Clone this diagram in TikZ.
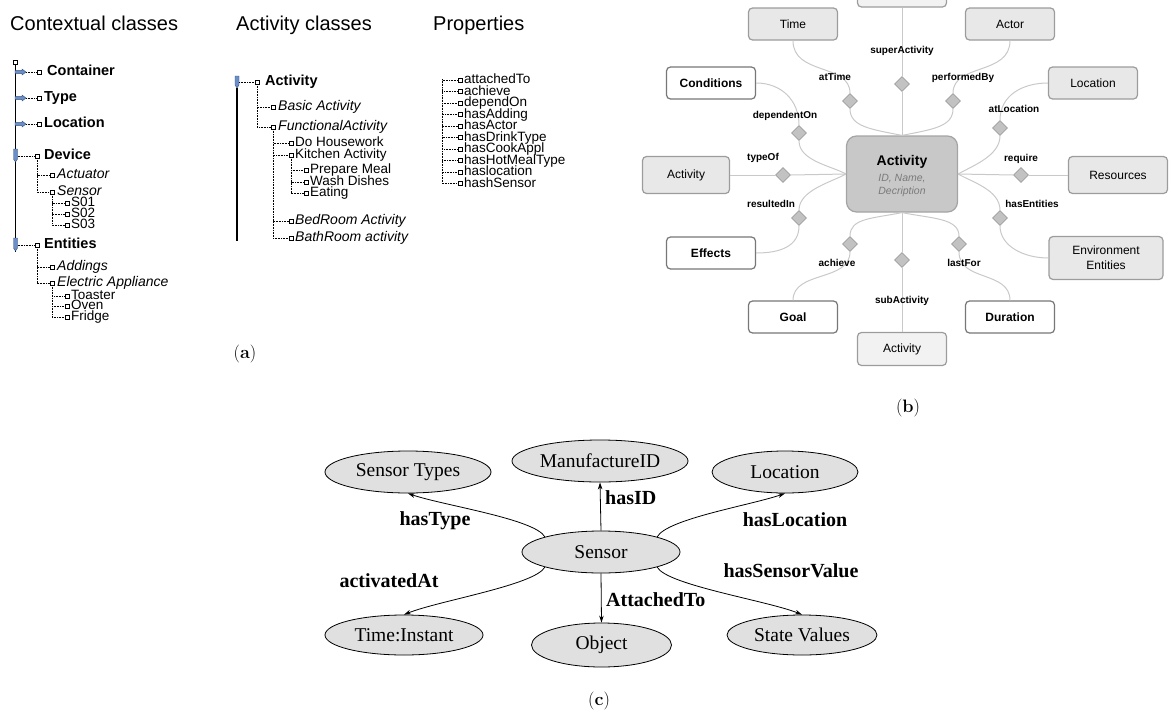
\documentclass[tikz,border=0pt]{standalone}
\usepackage{fontspec}
\newfontfamily\arialf{Liberation Sans}
\newfontfamily\timesf{Liberation Serif}
\usetikzlibrary{shapes.geometric,arrows.meta}
\definecolor{boxgray}{HTML}{E8E8E8}
\definecolor{boxlight}{HTML}{F2F2F2}
\definecolor{bbord}{HTML}{9C9C9C}
\definecolor{wbord}{HTML}{777777}
\definecolor{cfill}{HTML}{C8C8C8}
\definecolor{cbord}{HTML}{A4A4A4}
\definecolor{dfill}{HTML}{C2C2C2}
\definecolor{dbord}{HTML}{9E9E9E}
\definecolor{lgray}{HTML}{C9C9C9}
\definecolor{egray}{HTML}{E0E0E0}
\definecolor{tgray}{HTML}{7A7A7A}
\definecolor{ablue}{HTML}{6A8FC8}
\definecolor{adark}{HTML}{2C4A78}

\begin{document}
\begin{tikzpicture}[x=1pt,y=-1pt]
\tikzstyle{every node}+=[inner sep=0pt]
\tikzstyle{head}=[anchor=mid west,yshift=-2pt,font=\arialf\fontsize{20}{22}\selectfont]
\tikzstyle{leaf}=[anchor=mid west,yshift=-1.5pt,font=\arialf\fontsize{14}{14}\selectfont]
\tikzstyle{sleaf}=[leaf,font=\arialf\fontsize{13.5}{13}\selectfont]
\tikzstyle{bleaf}=[leaf,font=\arialf\bfseries\fontsize{14.5}{14}\selectfont]
\tikzstyle{ileaf}=[leaf,font=\arialf\itshape\fontsize{14}{14}\selectfont]
\tikzstyle{sq}=[draw=black,fill=white,line width=0.5pt,minimum size=4pt]
\tikzstyle{tick}=[black,line width=0.6pt,dash pattern=on 0.8pt off 0.8pt]
\tikzstyle{barrow}=[fill=ablue,draw=adark,line width=0.4pt]
\tikzstyle{gbox}=[draw=bbord,fill=boxgray,rounded corners=4pt,line width=1.2pt,minimum width=89pt,minimum height=32pt,font=\arialf\fontsize{12}{14}\selectfont]
\tikzstyle{wbox}=[gbox,fill=white,draw=wbord,font=\arialf\bfseries\fontsize{12}{14}\selectfont]
\tikzstyle{dia}=[diamond,draw=dbord,fill=dfill,line width=0.8pt,minimum size=15pt]
\tikzstyle{rel}=[anchor=mid,font=\arialf\bfseries\fontsize{10}{12}\selectfont]
\tikzstyle{lnk}=[draw=lgray,line width=1pt]
\tikzstyle{ell}=[ellipse,draw=black,fill=egray,line width=0.8pt,font=\timesf\fontsize{19.5}{20}\selectfont]
\tikzstyle{lab}=[anchor=mid,font=\timesf\bfseries\fontsize{20}{22}\selectfont]
\tikzstyle{arr}=[-{Stealth[length=7pt,width=4.5pt]},line width=0.8pt]
\useasboundingbox (0,0) rectangle (1171,715);

% (a) contextual classes
\node[head] (hctx) at (10,26) {Contextual classes};
\node[sq] (qroot) at (15.5,62) {};
\draw[black,line width=1.4pt] (qroot.south) -- (15.5,252);
\filldraw[barrow] (15,70.6) -- (22,70.6) -- (22,69) -- (26,72) -- (22,75) -- (22,73.4) -- (15,73.4) -- cycle;
\filldraw[barrow] (15,96.6) -- (22,96.6) -- (22,95) -- (26,98) -- (22,101) -- (22,99.4) -- (15,99.4) -- cycle;
\filldraw[barrow] (15,122.6) -- (22,122.6) -- (22,121) -- (26,124) -- (22,127) -- (22,125.4) -- (15,125.4) -- cycle;
\filldraw[barrow] (13.5,149) -- (17.5,149) -- (17.5,159) -- (15.5,162) -- (13.5,159) -- cycle;
\filldraw[barrow] (13.5,238) -- (17.5,238) -- (17.5,248) -- (15.5,251) -- (13.5,248) -- cycle;
\coordinate (acon) at (26,72);
\coordinate (atyp) at (26,98);
\coordinate (aloc) at (26,124);
\coordinate (adev) at (17.5,156);
\coordinate (aent) at (17.5,245);
\node[sq] (qcon) at (39,72) {};
\node[sq] (qtyp) at (39,98) {};
\node[sq] (qloc) at (39,124) {};
\node[sq] (qdev) at (37,156) {};
\node[sq] (qact) at (52,175) {};
\node[sq] (qsen) at (52,192) {};
\node[sq] (qs1) at (67,203) {};
\node[sq] (qs2) at (67,214) {};
\node[sq] (qs3) at (67,225) {};
\node[sq] (qent) at (37,245) {};
\node[sq] (qadd) at (52,267) {};
\node[sq] (qele) at (52,283) {};
\node[sq] (qtoa) at (67,296) {};
\node[sq] (qove) at (67,306) {};
\node[sq] (qfri) at (67,317) {};
\node[bleaf] (ncon) at (47,72) {Container};
\node[bleaf] (ntyp) at (44,98) {Type};
\node[bleaf] (nloc) at (44,124) {Location};
\node[bleaf] (ndev) at (44,156) {Device};
\node[ileaf] (nact) at (57,175) {Actuator};
\node[ileaf] (nsen) at (57,192) {Sensor};
\node[sleaf] (ns1) at (71,203) {S01};
\node[sleaf] (ns2) at (71,214) {S02};
\node[sleaf] (ns3) at (71,225) {S03};
\node[bleaf] (nent) at (44,245) {Entities};
\node[ileaf] (nadd) at (57,267) {Addings};
\node[ileaf] (nele) at (57,283) {Electric Appliance};
\node[sleaf] (ntoa) at (71,296) {Toaster};
\node[sleaf] (nove) at (71,306) {Oven};
\node[sleaf] (nfri) at (71,317) {Fridge};
\draw[tick] (acon) -- (qcon);
\draw[tick] (atyp) -- (qtyp);
\draw[tick] (aloc) -- (qloc);
\draw[tick] (adev) -- (qdev);
\draw[tick] (aent) -- (qent);
\draw[tick] (qdev) |- (qact);
\draw[tick] (qdev) |- (qsen);
\draw[tick] (qsen) |- (qs1);
\draw[tick] (qsen) |- (qs2);
\draw[tick] (qsen) |- (qs3);
\draw[tick] (qent) |- (qadd);
\draw[tick] (qent) |- (qele);
\draw[tick] (qele) |- (qtoa);
\draw[tick] (qele) |- (qove);
\draw[tick] (qele) |- (qfri);

% (a) activity classes
\node[head] (hact) at (236,26) {Activity classes};
\filldraw[barrow] (235,76) -- (239,76) -- (239,85) -- (237,88) -- (235,85) -- cycle;
\draw[black,line width=1.4pt] (237,88) -- (237,241);
\coordinate (aacv) at (239,82);
\node[sq] (qacv) at (257,82) {};
\node[sq] (qbas) at (273,107) {};
\node[sq] (qfun) at (273,127) {};
\node[sq] (qdoh) at (291,143) {};
\node[sq] (qkit) at (291,155) {};
\node[sq] (qpre) at (306,170) {};
\node[sq] (qwas) at (306,182) {};
\node[sq] (qeat) at (306,193) {};
\node[sq] (qbed) at (291,221) {};
\node[sq] (qbat) at (291,238) {};
\node[bleaf] (nacv) at (265,82) {Activity};
\node[ileaf] (nbas) at (278,107) {Basic Activity};
\node[ileaf] (nfun) at (278,127) {FunctionalActivity};
\node[sleaf] (ndoh) at (295,143) {Do Housework};
\node[sleaf] (nkit) at (295,155) {Kitchen Activity};
\node[sleaf] (npre) at (310,170) {Prepare Meal};
\node[sleaf] (nwas) at (310,182) {Wash Dishes};
\node[sleaf] (neat) at (310,193) {Eating};
\node[ileaf] (nbed) at (295,221) {BedRoom Activity};
\node[ileaf] (nbat) at (295,238) {BathRoom activity};
\draw[tick] (aacv) -- (qacv);
\draw[tick] (qacv) |- (qbas);
\draw[tick] (qacv) |- (qfun);
\draw[tick] (qfun) |- (qdoh);
\draw[tick] (qfun) |- (qkit);
\draw[tick] (qfun) |- (qbed);
\draw[tick] (qfun) |- (qbat);
\draw[tick] (qkit) |- (qpre);
\draw[tick] (qkit) |- (qwas);
\draw[tick] (qkit) |- (qeat);

% (a) properties
\node[head] (hprop) at (433,26) {Properties};
\coordinate (proot) at (442,79);
\node[sq] (qp0) at (460,80) {};
\node[sq] (qp1) at (460,91.5) {};
\node[sq] (qp2) at (460,103) {};
\node[sq] (qp3) at (460,114.5) {};
\node[sq] (qp4) at (460,126) {};
\node[sq] (qp5) at (460,137.5) {};
\node[sq] (qp6) at (460,149) {};
\node[sq] (qp7) at (460,160.5) {};
\node[sq] (qp8) at (460,172) {};
\node[sq] (qp9) at (460,183.5) {};
\node[sleaf] (np0) at (464,80) {attachedTo};
\node[sleaf] (np1) at (464,91.5) {achieve};
\node[sleaf] (np2) at (464,103) {dependOn};
\node[sleaf] (np3) at (464,114.5) {hasAdding};
\node[sleaf] (np4) at (464,126) {hasActor};
\node[sleaf] (np5) at (464,137.5) {hasDrinkType};
\node[sleaf] (np6) at (464,149) {hasCookAppl};
\node[sleaf] (np7) at (464,160.5) {hasHotMealType};
\node[sleaf] (np8) at (464,172) {haslocation};
\node[sleaf] (np9) at (464,183.5) {hashSensor};
\draw[tick] (proot) |- (qp0);
\draw[tick] (proot) |- (qp1);
\draw[tick] (proot) |- (qp2);
\draw[tick] (proot) |- (qp3);
\draw[tick] (proot) |- (qp4);
\draw[tick] (proot) |- (qp5);
\draw[tick] (proot) |- (qp6);
\draw[tick] (proot) |- (qp7);
\draw[tick] (proot) |- (qp8);
\draw[tick] (proot) |- (qp9);
\node (capa) at (245,354) {\fontsize{18}{20}\selectfont(\textbf{a})};

% (b) activity model
\node[gbox,minimum height=34pt,fill=boxlight] (sup) at (902,-10) {};
\node[gbox] (time) at (793,24) {Time};
\node[gbox] (actor) at (1010,24) {Actor};
\node[wbox] (cond) at (711,83) {Conditions};
\node[gbox] (loc) at (1093,83) {Location};
\node[gbox,minimum width=87pt,minimum height=37pt] (actl) at (686,175) {Activity};
\node[gbox,minimum width=99pt,minimum height=37pt] (res) at (1118,175) {Resources};
\node[wbox] (eff) at (711,253) {Effects};
\node[gbox,minimum width=114pt,minimum height=43pt,align=center] (env) at (1106,258) {Environment\\[1pt]Entities};
\node[wbox] (goal) at (793,317) {Goal};
\node[wbox] (dur) at (1010,317) {Duration};
\node[gbox,minimum height=33pt,fill=boxlight] (sub) at (902,349) {Activity};
\node[draw=cbord,fill=cfill,rounded corners=10pt,line width=1.2pt,minimum width=111pt,minimum height=76pt] (act) at (902,174) {};
\node[font=\arialf\bfseries\fontsize{14}{16}\selectfont] (actT) at (902,162) {Activity};
\node[font=\arialf\itshape\fontsize{10.5}{12}\selectfont,text=tgray] (actA) at (902,179) {ID, Name,};
\node[font=\arialf\itshape\fontsize{10.5}{12}\selectfont,text=tgray] (actB) at (902,192) {Decription};
\node[dia] (dSup) at (902,84) {};
\node[dia] (dAt) at (850,101) {};
\node[dia] (dPerf) at (953,101) {};
\node[dia] (dDep) at (799,133) {};
\node[dia] (dLoc) at (1000,128) {};
\node[dia] (dType) at (783,175) {};
\node[dia] (dReq) at (1021,175) {};
\node[dia] (dRes) at (799,218) {};
\node[dia] (dEnt) at (1000,218) {};
\node[dia] (dAch) at (850,244) {};
\node[dia] (dSub) at (902,260) {};
\node[dia] (dLast) at (959,244) {};
\draw[lnk] (sup.south) -- (dSup.north);
\draw[lnk] (dSup.south) -- (act.north);
\draw[lnk] (time.south) .. controls +(0,35) and +(0,-30) .. (dAt.north);
\draw[lnk] (dAt.south) .. controls +(0,18) and +(-30,-6) .. (act.north);
\draw[lnk] (actor.south) .. controls +(0,35) and +(0,-30) .. (dPerf.north);
\draw[lnk] (dPerf.south) .. controls +(0,18) and +(30,-6) .. (act.north);
\draw[lnk] (cond.east) .. controls +(25,0) and +(0,-25) .. (dDep.north);
\draw[lnk] (dDep.south) .. controls +(0,20) and +(-14,-8) .. (act.west);
\draw[lnk] (loc.west) .. controls +(-25,0) and +(0,-25) .. (dLoc.north);
\draw[lnk] (dLoc.south) .. controls +(0,20) and +(14,-8) .. (act.east);
\draw[lnk] (actl.east) -- (dType.west);
\draw[lnk] (dType.east) -- (act.west);
\draw[lnk] (act.east) -- (dReq.west);
\draw[lnk] (dReq.east) -- (res.west);
\draw[lnk] (act.west) .. controls +(-14,8) and +(0,-20) .. (dRes.north);
\draw[lnk] (dRes.south) .. controls +(0,20) and +(25,0) .. (eff.east);
\draw[lnk] (act.east) .. controls +(14,8) and +(0,-20) .. (dEnt.north);
\draw[lnk] (dEnt.south) .. controls +(0,20) and +(-25,0) .. (env.west);
\draw[lnk] (act.south) .. controls +(-30,6) and +(0,-18) .. (dAch.north);
\draw[lnk] (dAch.south) .. controls +(0,30) and +(0,-30) .. (goal.north);
\draw[lnk] (act.south) .. controls +(30,6) and +(0,-18) .. (dLast.north);
\draw[lnk] (dLast.south) .. controls +(0,30) and +(0,-30) .. (dur.north);
\draw[lnk] (act.south) -- (dSub.north);
\draw[lnk] (dSub.south) -- (sub.north);
\node[rel] (lSup) at (902,51) {superActivity};
\node[rel] (lAt) at (835,78) {atTime};
\node[rel] (lPerf) at (963,78) {performedBy};
\node[rel] (lDep) at (785,116) {dependentOn};
\node[rel] (lLoc) at (1014,110) {atLocation};
\node[rel] (lType) at (763,158) {typeOf};
\node[rel] (lReq) at (1021,159) {require};
\node[rel] (lRes) at (771,205) {resultedIn};
\node[rel] (lEnt) at (1032,205) {hasEntities};
\node[rel] (lAch) at (837,264) {achieve};
\node[rel] (lLast) at (964,264) {lastFor};
\node[rel] (lSub) at (902,301) {subActivity};
\node (capb) at (908,408) {\fontsize{18}{20}\selectfont(\textbf{b})};

% (c) sensor model
\node[ell,minimum width=166pt,minimum height=42pt] (st) at (408,472) {Sensor Types};
\node[ell,minimum width=176pt,minimum height=42pt] (mid) at (600,461) {ManufactureID};
\node[ell,minimum width=146pt,minimum height=42pt] (loc2) at (785,472) {Location};
\node[ell,minimum width=158pt,minimum height=42pt] (sen) at (601,552) {Sensor};
\node[ell,minimum width=158pt,minimum height=40pt] (ti) at (404,635) {Time:Instant};
\node[ell,minimum width=140pt,minimum height=44pt] (obj) at (601.5,645) {Object};
\node[ell,minimum width=150pt,minimum height=40pt] (sv) at (802,635) {State Values};
\draw[arr] (sen.north west) .. controls +(-10,-18) and +(35,12) .. (st.south);
\draw[arr] (sen.north) -- (mid.south);
\draw[arr] (sen.north east) .. controls +(10,-18) and +(-35,12) .. (loc2.south);
\draw[arr] (sen.south west) .. controls +(-10,18) and +(35,-14) .. (ti.north);
\draw[arr] (sen.south) -- (obj.north);
\draw[arr] (sen.south east) .. controls +(10,18) and +(-35,-14) .. (sv.north);
\node[lab] (lhT) at (435,523) {hasType};
\node[lab,anchor=mid west] (lhI) at (605,502) {hasID};
\node[lab] (lhL) at (795,524) {hasLocation};
\node[lab] (lhA) at (389,585) {activatedAt};
\node[lab,anchor=mid west] (lhO) at (606,604) {AttachedTo};
\node[lab] (lhS) at (791,575) {hasSensorValue};
\node (capc) at (599,701) {\fontsize{18}{20}\selectfont(\textbf{c})};
\end{tikzpicture}
\end{document}
